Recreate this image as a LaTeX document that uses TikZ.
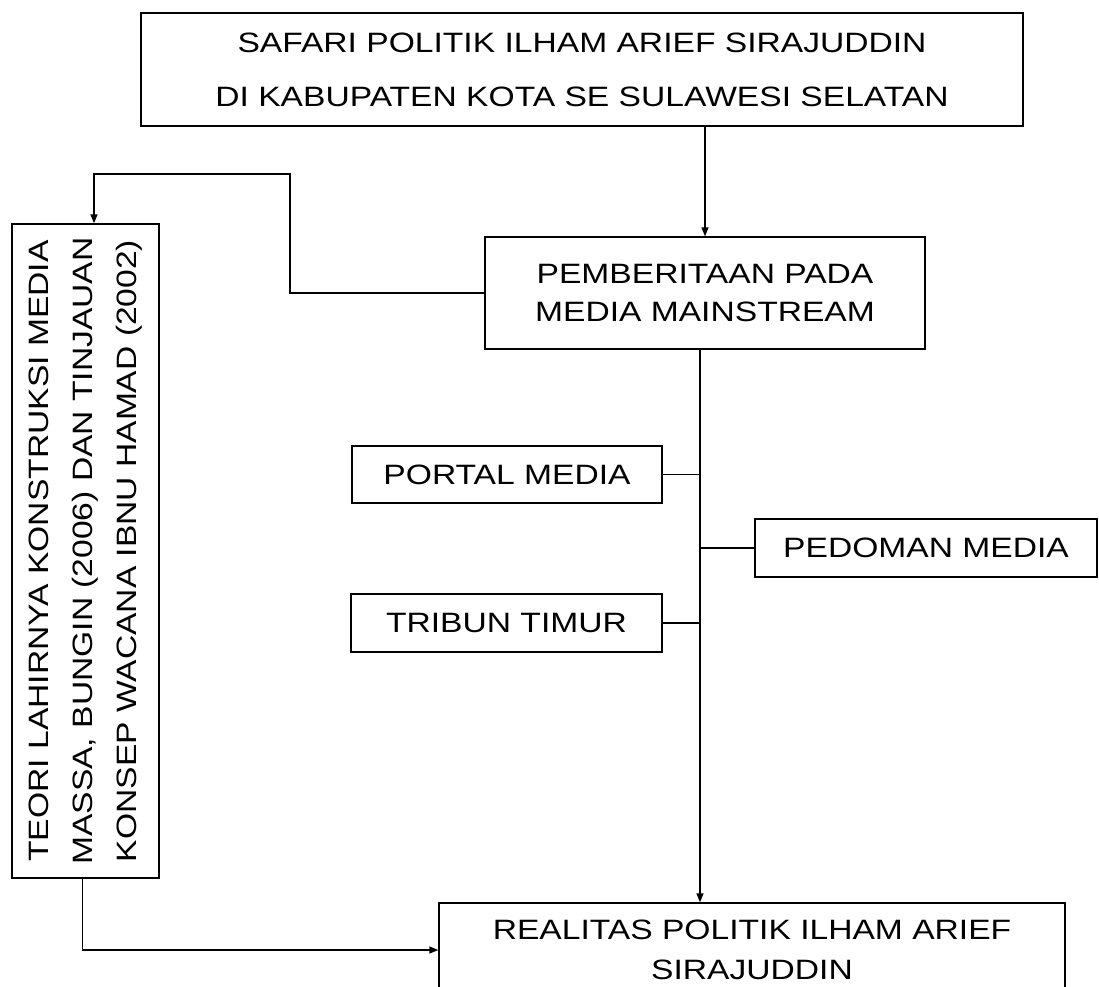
\documentclass[tikz,border=0pt]{standalone}
\usepackage{fontspec}
\setmainfont{Liberation Sans}[FakeStretch=1.2]
\usetikzlibrary{arrows.meta}

\begin{document}
\begin{tikzpicture}[x=1pt,y=-1pt,line width=1.4pt,
                kotak/.style={draw,inner sep=0pt,align=center,font=\fontsize{28}{38}\selectfont},
                panah/.style={-{Triangle[length=9pt,width=7pt]}}]
                \useasboundingbox (0,0) rectangle (1099,986);

                \node[kotak,minimum width=882pt,minimum height=113pt,font=\fontsize{28}{54}\selectfont] (safari) at (582,69.5)
                    {SAFARI POLITIK ILHAM ARIEF SIRAJUDDIN\\DI KABUPATEN KOTA SE SULAWESI SELATAN};
                \node[kotak,minimum width=440pt,minimum height=112pt] (media) at (705,293)
                    {PEMBERITAAN PADA\\MEDIA MAINSTREAM};
                \node[kotak,minimum width=310pt,minimum height=57pt] (portal) at (507,474.5) {PORTAL MEDIA};
                \node[kotak,minimum width=342pt,minimum height=58pt] (pedoman) at (926,548) {PEDOMAN MEDIA};
                \node[kotak,minimum width=311pt,minimum height=58pt] (tribun) at (506.5,623) {TRIBUN TIMUR};
                \node[kotak,minimum width=626pt,minimum height=94pt,font=\fontsize{28}{40}\selectfont] (realitas) at (752,950)
                    {REALITAS POLITIK ILHAM ARIEF\\SIRAJUDDIN};
                \node[kotak,rotate=90,minimum width=654pt,minimum height=147pt,font=\fontsize{28}{44}\selectfont] (teori) at (85.5,551)
                    {TEORI LAHIRNYA KONSTRUKSI MEDIA\\MASSA, BUNGIN (2006) DAN TINJAUAN\\KONSEP WACANA IBNU HAMAD (2002)};

                \coordinate (belok) at (290,174);
                \coordinate (tulang) at ([xshift=-5pt]media.south);

                \draw[panah] (safari.south -| media.north) -- (media.north);
                \draw[panah] (media.west) -| (belok) -| ([xshift=8.5pt]teori.east);
                \draw[panah] (tulang) -- (tulang |- realitas.north);
                \draw (portal.east) -- (portal.east -| tulang);
                \draw (pedoman.west) -- (pedoman.west -| tulang);
                \draw (tribun.east) -- (tribun.east -| tulang);
                \draw[panah] ([xshift=-3pt]teori.west) |- (realitas.west);
            \end{tikzpicture}
\end{document}
